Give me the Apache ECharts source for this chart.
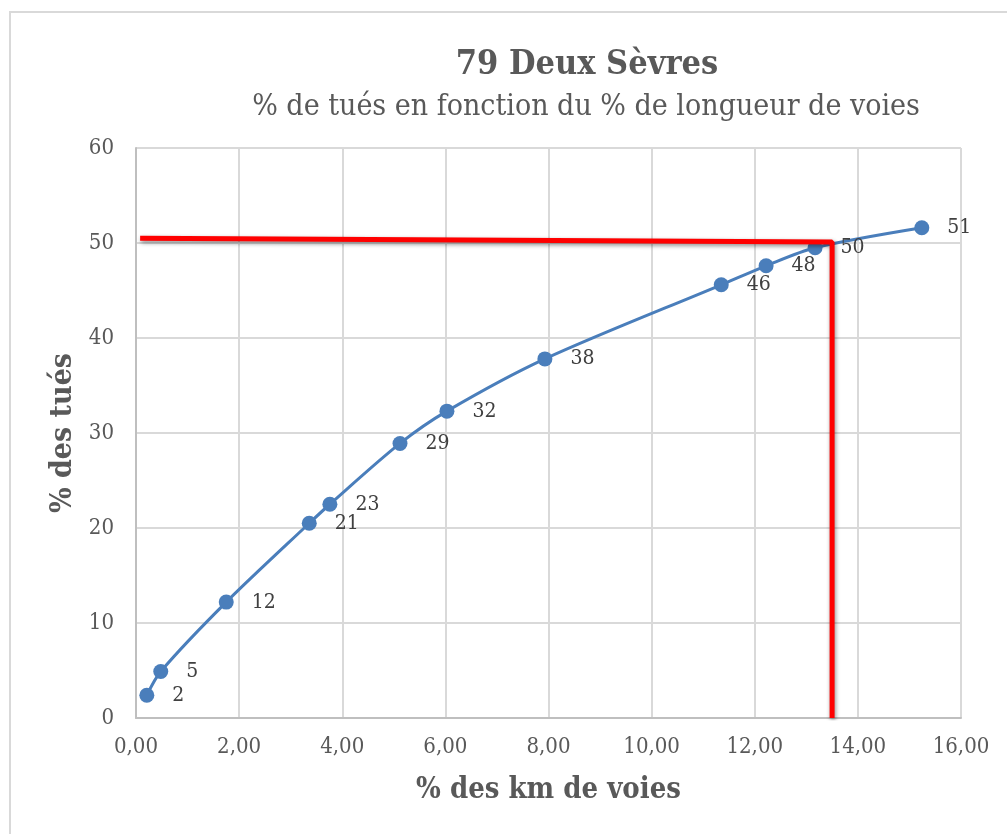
<!DOCTYPE html>
<html>
<head>
<meta charset="utf-8">
<script src="https://cdn.jsdelivr.net/npm/echarts@6/dist/echarts.min.js"></script>
<style>
  html, body { margin: 0; padding: 0; background: #fff; }
  #chart { width: 1007px; height: 834px; }
</style>
</head>
<body>
<div id="chart"></div>
<script>
// % des km de voies / % des tués
var kmPct = [0.21, 0.48, 1.75, 3.36, 3.76, 5.12, 6.03, 7.93, 11.35, 12.22, 13.17, 15.24];
var tuesPct = [2.4, 4.9, 12.2, 20.5, 22.5, 28.9, 32.3, 37.8, 45.6, 47.6, 49.5, 51.6];
var pointLabels = ['2', '5', '12', '21', '23', '29', '32', '38', '46', '48', '50', '51'];

// repère rouge (tracé à la main sur l'original)
var redX = [0.08, 13.5, 13.5];
var redY = [50.5, 50.1, 0];

var serif = '"DejaVu Serif Condensed", "DejaVu Serif", serif';
var grey = '#595959';

var mainData = [];
for (var i = 0; i < kmPct.length; i++) {
  mainData.push({ value: [kmPct[i], tuesPct[i]], label: { formatter: pointLabels[i] } });
}
var redData = [];
for (var j = 0; j < redX.length; j++) {
  redData.push([redX[j], redY[j]]);
}

var chart = echarts.init(document.getElementById('chart'));
var option = {
  animation: false,
  backgroundColor: '#fff',
  graphic: [{
    type: 'rect',
    shape: { x: 10, y: 12, width: 1010, height: 840 },
    style: { fill: 'none', stroke: '#d9d9d9', lineWidth: 2 }
  }],
  title: [{
    text: '79 Deux Sèvres',
    left: 582, top: 43, textAlign: 'center',
    textStyle: { fontFamily: serif, fontSize: 34, fontWeight: 'bold', color: grey }
  }, {
    text: '% de tués en fonction du % de longueur de voies',
    left: 581, top: 87, textAlign: 'center',
    textStyle: { fontFamily: serif, fontSize: 30, fontWeight: 'normal', color: grey }
  }],
  grid: { left: 136, right: 46, top: 148, bottom: 116 },
  xAxis: {
    type: 'value', min: 0, max: 16, interval: 2,
    name: '% des km de voies', nameLocation: 'middle', nameGap: 58,
    nameTextStyle: { fontFamily: serif, fontSize: 29, fontWeight: 'bold', color: grey },
    axisLine: { show: true, lineStyle: { color: '#bfbfbf', width: 2 } },
    axisTick: { show: false },
    axisLabel: {
      fontFamily: serif, fontSize: 22, color: grey, margin: 18,
      formatter: function (v) { return v.toFixed(2).replace('.', ','); }
    },
    splitLine: { show: true, lineStyle: { color: '#d9d9d9', width: 2 } }
  },
  yAxis: {
    type: 'value', min: 0, max: 60, interval: 10,
    name: '% des tués', nameLocation: 'middle', nameGap: 48,
    nameTextStyle: { fontFamily: serif, fontSize: 30, fontWeight: 'bold', color: grey },
    axisLine: { show: true, lineStyle: { color: '#bfbfbf', width: 2 } },
    axisTick: { show: false },
    axisLabel: { fontFamily: serif, fontSize: 22, color: grey, margin: 22 },
    splitLine: { show: true, lineStyle: { color: '#d9d9d9', width: 2 } }
  },
  series: [{
    type: 'line',
    data: mainData,
    smooth: 0.3,
    symbol: 'circle',
    symbolSize: 15,
    itemStyle: { color: '#4a7ebb' },
    lineStyle: { color: '#4a7ebb', width: 3 },
    label: {
      show: true, position: 'right', distance: 18,
      fontFamily: serif, fontSize: 21, color: '#404040'
    },
    z: 3
  }, {
    type: 'line',
    data: redData,
    symbol: 'none',
    lineStyle: {
      color: '#ff0000', width: 5,
      shadowBlur: 4, shadowColor: 'rgba(0,0,0,0.45)', shadowOffsetX: 1, shadowOffsetY: 2
    },
    z: 4
  }]
};
chart.setOption(option);
</script>
</body>
</html>
